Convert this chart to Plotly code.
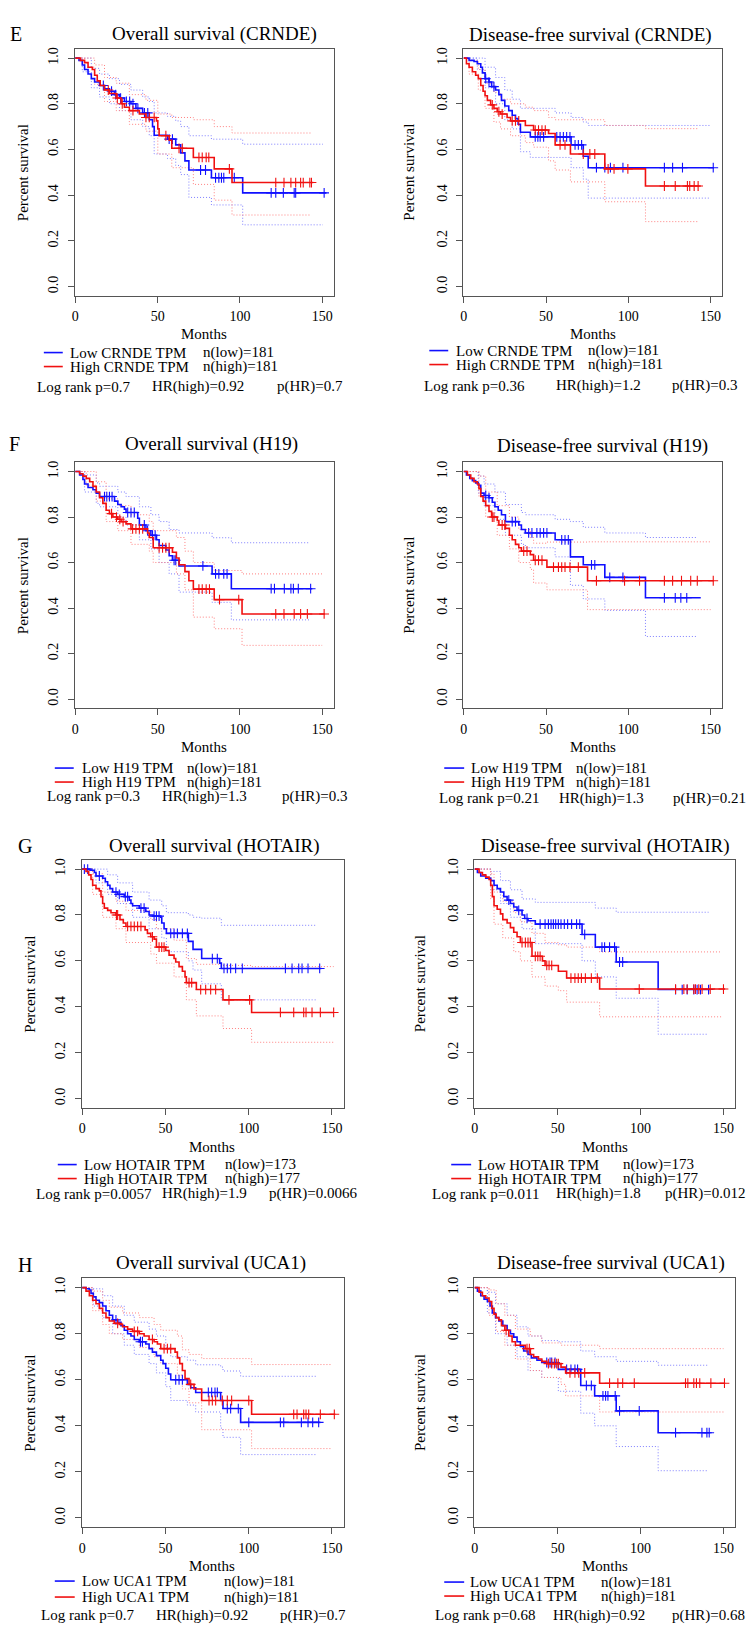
import bisect
import plotly.graph_objects as go

W, H = 756, 1634

# ------------------------------------------------------------------ data
# Kaplan-Meier steps: (months, survival); CI steps: (months, lower, upper); censor times in months
CRNDE_OS_LOW = [(0,1.0),(2.2,0.99),(4.2,0.97),(5.6,0.95),(7.7,0.93),(9.7,0.91),(11.7,0.895),(14.7,0.88),(17.7,0.865),(20.7,0.855),(23.8,0.84),(26.8,0.825),(29.8,0.81),(33.8,0.80),(36.8,0.78),(40.9,0.76),(44.9,0.73),(46.9,0.70),(47.9,0.662),(56.0,0.645),(61.0,0.62),(64.0,0.585),(66.6,0.55),(69.0,0.51),(82.7,0.476),(101.7,0.41),(152.6,0.41)]
CRNDE_OS_LOW_CENS = [17.0,22.0,24.5,27.5,31.0,33.0,35.0,38.0,42.0,44.0,57.0,59.0,76.1,79.1,85.2,87.2,88.8,90.2,96.6,119.0,121.8,126.4,133.0,133.9,151.2]
CRNDE_OS_LOW_CI = [(0,1.0,1.0),(4.2,0.94,1.0),(9.7,0.87,0.955),(14.7,0.83,0.93),(20.7,0.80,0.91),(26.8,0.77,0.885),(33.8,0.73,0.86),(40.9,0.70,0.83),(44.9,0.66,0.81),(47.9,0.58,0.76),(56.0,0.56,0.745),(61.0,0.53,0.725),(64.0,0.49,0.70),(69.0,0.39,0.66),(82.7,0.357,0.645),(101.7,0.27,0.623),(150.5,0.27,0.623)]
CRNDE_OS_HIGH = [(0,1.0),(3.0,0.99),(5.6,0.98),(7.7,0.96),(10.3,0.95),(11.7,0.925),(13.3,0.90),(15.1,0.88),(17.7,0.86),(20.7,0.845),(24.8,0.825),(27.8,0.80),(29.8,0.785),(32.8,0.77),(38.9,0.755),(42.9,0.74),(49.3,0.725),(50.1,0.69),(50.9,0.66),(57.0,0.64),(58.6,0.605),(71.7,0.565),(84.4,0.515),(95.2,0.455),(144.6,0.455)]
CRNDE_OS_HIGH_CENS = [20.0,25.5,28.5,35.0,42.9,44.9,47.9,55.0,63.0,65.0,75.1,77.1,79.5,81.1,93.6,121.8,126.8,131.0,133.9,136.9,138.5,142.5,143.5]
CRNDE_OS_HIGH_CI = [(0,1.0,1.0),(5.6,0.96,1.0),(11.7,0.885,0.97),(17.7,0.81,0.915),(24.8,0.77,0.89),(32.8,0.71,0.84),(42.9,0.68,0.815),(50.1,0.58,0.755),(58.6,0.52,0.74),(71.7,0.447,0.73),(84.4,0.378,0.70),(95.2,0.313,0.672),(143.5,0.313,0.672)]

CRNDE_DFS_LOW = [(0,1.0),(3.2,0.99),(6.2,0.985),(8.2,0.975),(10.3,0.96),(11.3,0.935),(12.9,0.91),(15.3,0.895),(16.9,0.875),(19.3,0.86),(21.3,0.84),(22.9,0.815),(24.9,0.79),(27.3,0.77),(29.4,0.75),(31.4,0.735),(33.0,0.71),(34.4,0.675),(40.4,0.655),(65.2,0.62),(72.6,0.57),(75.6,0.52),(152.0,0.52)]
CRNDE_DFS_LOW_CENS = [13.3,15.3,18.3,43.4,45.0,46.4,48.5,56.5,58.5,60.5,62.5,64.5,67.6,69.6,71.6,80.6,85.7,89.1,96.7,121.9,126.9,132.9,151.6]
CRNDE_DFS_LOW_CI = [(0,1.0,1.0),(8.2,0.95,1.0),(12.9,0.87,0.96),(19.3,0.80,0.915),(24.9,0.73,0.86),(29.4,0.69,0.82),(34.4,0.59,0.78),(40.4,0.565,0.78),(55.5,0.565,0.76),(65.2,0.52,0.74),(72.6,0.47,0.72),(75.6,0.387,0.705),(150.0,0.387,0.705)]
CRNDE_DFS_HIGH = [(0,1.0),(1.6,0.975),(3.2,0.96),(5.2,0.94),(7.2,0.925),(8.8,0.91),(10.3,0.88),(11.7,0.855),(12.9,0.835),(14.3,0.815),(16.3,0.795),(18.3,0.78),(20.3,0.765),(22.3,0.755),(26.3,0.74),(28.4,0.725),(37.4,0.705),(42.4,0.685),(51.5,0.67),(55.5,0.62),(64.8,0.58),(85.7,0.515),(110.4,0.44),(144.0,0.44)]
CRNDE_DFS_HIGH_CENS = [17.3,21.3,23.3,29.4,31.4,33.4,43.4,45.4,47.5,49.5,58.5,61.5,72.6,76.6,79.6,87.7,91.3,99.7,121.9,128.5,135.9,137.3,140.0,142.4]
CRNDE_DFS_HIGH_CI = [(0,1.0,1.0),(3.2,0.93,0.99),(8.8,0.86,0.95),(12.9,0.78,0.89),(18.3,0.72,0.85),(22.3,0.69,0.82),(28.4,0.66,0.80),(37.4,0.63,0.785),(42.4,0.61,0.77),(51.5,0.55,0.74),(55.5,0.51,0.73),(64.8,0.458,0.73),(85.7,0.371,0.705),(110.4,0.284,0.691),(142.4,0.284,0.691)]

H19_OS_LOW = [(0,1.0),(2.6,0.985),(4.6,0.965),(5.6,0.945),(7.7,0.93),(10.7,0.92),(12.7,0.905),(14.7,0.89),(23.8,0.87),(25.8,0.855),(27.8,0.845),(29.8,0.835),(30.8,0.82),(37.9,0.795),(38.9,0.765),(42.9,0.74),(45.9,0.72),(49.3,0.70),(50.9,0.675),(55.0,0.655),(57.0,0.63),(59.0,0.61),(63.0,0.585),(83.1,0.55),(94.8,0.485),(144.0,0.485)]
H19_OS_LOW_CENS = [17.7,19.1,20.7,22.3,31.8,33.8,35.8,41.9,43.9,46.9,48.5,60.0,61.0,77.5,85.2,87.2,90.2,92.2,119.0,121.0,127.0,131.0,132.5,135.5,143.0]
H19_OS_LOW_CI = [(0,1.0,1.0),(5.6,0.91,0.985),(12.7,0.86,0.95),(14.7,0.845,0.935),(25.8,0.80,0.91),(30.8,0.765,0.89),(38.9,0.70,0.845),(45.9,0.66,0.81),(50.9,0.60,0.78),(57.0,0.55,0.745),(63.0,0.47,0.73),(83.1,0.425,0.709),(94.8,0.348,0.687),(142.0,0.348,0.687)]
H19_OS_HIGH = [(0,1.0),(2.6,0.99),(4.6,0.98),(6.6,0.97),(8.7,0.955),(10.7,0.935),(12.7,0.91),(14.7,0.885),(16.7,0.86),(18.7,0.83),(20.7,0.815),(22.8,0.80),(25.8,0.79),(27.8,0.78),(30.8,0.77),(33.8,0.748),(43.9,0.73),(44.9,0.71),(47.3,0.665),(59.0,0.645),(61.4,0.62),(63.0,0.59),(66.6,0.56),(69.0,0.52),(71.7,0.483),(84.4,0.437),(101.3,0.374),(151.6,0.374)]
H19_OS_HIGH_CENS = [22.0,25.0,27.0,29.0,34.8,36.8,38.9,40.9,50.9,53.0,55.0,57.0,75.1,77.1,79.5,81.5,87.6,99.3,121.8,126.8,133.0,136.9,141.0,151.2]
H19_OS_HIGH_CI = [(0,1.0,1.0),(6.6,0.94,1.0),(12.7,0.87,0.955),(18.7,0.78,0.88),(25.8,0.74,0.85),(33.8,0.68,0.81),(44.9,0.65,0.78),(47.3,0.60,0.74),(61.4,0.55,0.71),(66.6,0.48,0.65),(71.7,0.36,0.60),(84.4,0.309,0.565),(101.3,0.236,0.55),(150.0,0.236,0.55)]

H19_DFS_LOW = [(0,1.0),(1.6,0.985),(3.6,0.97),(5.2,0.96),(7.2,0.95),(8.8,0.94),(10.3,0.905),(12.3,0.895),(15.3,0.885),(17.3,0.865),(18.9,0.845),(20.9,0.83),(22.9,0.81),(25.3,0.78),(33.4,0.765),(35.0,0.745),(37.4,0.73),(55.5,0.70),(64.8,0.625),(72.6,0.59),(85.7,0.535),(110.4,0.445),(144.0,0.445)]
H19_DFS_LOW_CENS = [13.3,15.3,29.4,31.4,39.4,41.4,44.4,46.4,48.5,50.5,59.5,61.5,63.5,77.6,79.6,88.7,96.7,121.9,128.5,131.9,135.5]
H19_DFS_LOW_CI = [(0,1.0,1.0),(8.8,0.905,0.98),(12.3,0.85,0.945),(18.9,0.79,0.91),(25.3,0.72,0.855),(35.0,0.68,0.82),(37.4,0.665,0.81),(55.5,0.625,0.79),(64.8,0.50,0.78),(72.6,0.44,0.755),(85.7,0.39,0.73),(110.4,0.275,0.71),(142.0,0.275,0.71)]
H19_DFS_HIGH = [(0,1.0),(2.2,0.985),(4.2,0.97),(6.2,0.955),(8.2,0.945),(9.2,0.925),(10.3,0.89),(11.7,0.87),(13.3,0.85),(15.3,0.825),(16.9,0.80),(20.3,0.785),(21.3,0.765),(25.3,0.75),(27.7,0.72),(29.4,0.70),(31.4,0.68),(33.4,0.665),(35.0,0.65),(40.4,0.635),(42.4,0.61),(50.5,0.58),(75.2,0.52),(152.0,0.52)]
H19_DFS_HIGH_CENS = [17.3,18.3,23.3,24.9,36.4,38.4,43.4,45.4,47.5,54.5,57.5,59.5,61.5,64.5,69.6,80.6,97.7,106.8,121.9,126.9,132.3,137.9,141.9,151.6]
H19_DFS_HIGH_CI = [(0,1.0,1.0),(9.2,0.89,0.98),(13.3,0.80,0.91),(20.3,0.72,0.85),(27.7,0.66,0.80),(33.4,0.60,0.745),(40.4,0.57,0.71),(42.4,0.51,0.685),(50.5,0.48,0.69),(75.2,0.393,0.691),(150.0,0.393,0.691)]

HOTAIR_OS_LOW = [(0,1.0),(4.6,0.995),(7.2,0.985),(8.2,0.97),(12.2,0.96),(13.8,0.945),(15.2,0.93),(16.6,0.915),(18.2,0.90),(21.2,0.89),(25.2,0.88),(28.2,0.865),(29.2,0.85),(30.2,0.84),(34.2,0.83),(38.1,0.815),(40.1,0.80),(42.5,0.795),(47.1,0.79),(47.7,0.765),(49.1,0.74),(50.5,0.72),(63.7,0.685),(66.5,0.65),(71.7,0.61),(82.5,0.59),(83.5,0.567),(143.6,0.567)]
HOTAIR_OS_LOW_CENS = [1.2,3.2,10.2,20.2,22.2,25.8,27.2,35.2,37.1,43.1,44.5,46.1,53.1,55.1,57.1,60.1,63.1,78.1,81.1,85.1,87.1,89.1,92.1,96.1,122.0,126.0,130.0,132.0,135.6,142.6]
HOTAIR_OS_LOW_CI = [(0,1.0,1.0),(8.2,0.94,1.0),(15.2,0.89,0.975),(21.2,0.85,0.94),(30.2,0.79,0.90),(40.1,0.74,0.865),(47.7,0.70,0.84),(50.5,0.64,0.81),(63.7,0.60,0.80),(66.5,0.56,0.79),(71.7,0.50,0.786),(83.5,0.43,0.755),(141.0,0.43,0.755)]
HOTAIR_OS_HIGH = [(0,1.0),(2.2,0.99),(3.8,0.975),(5.2,0.955),(6.2,0.93),(8.2,0.915),(10.2,0.905),(11.2,0.88),(12.2,0.85),(13.2,0.83),(15.2,0.82),(17.2,0.81),(20.2,0.80),(22.6,0.78),(24.6,0.765),(26.2,0.75),(37.7,0.735),(39.1,0.72),(41.1,0.705),(43.1,0.695),(44.5,0.66),(50.1,0.645),(52.1,0.625),(55.1,0.61),(56.1,0.595),(58.1,0.575),(60.1,0.555),(61.7,0.53),(62.5,0.505),(68.5,0.475),(84.5,0.43),(101.7,0.375),(151.0,0.375)]
HOTAIR_OS_HIGH_CENS = [20.5,21.2,27.2,29.2,31.2,33.2,35.2,42.1,46.1,47.7,49.1,64.1,65.7,71.1,74.1,77.1,80.1,88.1,100.5,119.0,127.0,133.0,134.4,138.0,143.0,151.0]
HOTAIR_OS_HIGH_CI = [(0,1.0,1.0),(6.2,0.89,0.98),(12.2,0.79,0.90),(20.2,0.74,0.86),(26.2,0.68,0.82),(41.1,0.63,0.78),(44.5,0.59,0.74),(55.1,0.53,0.69),(62.5,0.43,0.61),(68.5,0.36,0.585),(84.5,0.305,0.58),(101.7,0.245,0.575),(151.0,0.245,0.575)]

HOTAIR_DFS_LOW = [(0,1.0),(1.6,0.985),(3.6,0.97),(6.6,0.96),(9.6,0.95),(11.6,0.93),(13.5,0.915),(15.5,0.90),(17.5,0.88),(19.5,0.865),(21.5,0.85),(23.5,0.835),(25.5,0.82),(28.5,0.80),(30.1,0.785),(32.1,0.775),(36.5,0.76),(64.7,0.715),(72.7,0.66),(85.3,0.595),(110.6,0.475),(142.0,0.475)]
HOTAIR_DFS_LOW_CENS = [20.5,26.5,31.5,39.4,42.4,44.4,46.0,47.4,48.8,50.4,52.0,54.0,56.0,58.4,61.4,63.3,66.3,76.7,78.3,81.3,84.3,87.3,89.2,121.1,125.1,128.1,132.1,134.1,136.1,141.0]
HOTAIR_DFS_LOW_CI = [(0,1.0,1.0),(9.6,0.91,0.99),(15.5,0.85,0.95),(21.5,0.79,0.91),(28.5,0.74,0.87),(36.5,0.675,0.855),(64.7,0.60,0.855),(72.7,0.53,0.83),(85.3,0.437,0.812),(110.6,0.28,0.812),(141.0,0.28,0.812)]
HOTAIR_DFS_HIGH = [(0,1.0),(2.6,0.985),(4.6,0.975),(6.6,0.965),(8.6,0.955),(9.6,0.93),(10.6,0.88),(11.6,0.84),(13.5,0.825),(15.5,0.805),(16.9,0.78),(19.5,0.765),(21.5,0.745),(23.5,0.725),(25.5,0.705),(27.5,0.68),(34.5,0.62),(40.8,0.60),(42.4,0.58),(50.4,0.555),(55.4,0.525),(75.3,0.477),(151.0,0.477)]
HOTAIR_DFS_HIGH_CENS = [28.5,30.5,32.1,33.5,36.5,38.0,39.4,43.4,44.8,46.4,58.0,60.4,62.4,64.3,66.7,70.3,73.9,99.2,121.1,126.1,128.1,132.1,133.1,135.1,137.1,142.0,150.0]
HOTAIR_DFS_HIGH_CI = [(0,1.0,1.0),(9.6,0.87,0.98),(11.6,0.76,0.90),(16.9,0.70,0.86),(23.5,0.64,0.81),(27.5,0.60,0.77),(34.5,0.53,0.72),(42.4,0.49,0.68),(50.4,0.47,0.67),(55.4,0.42,0.66),(75.3,0.356,0.639),(149.0,0.356,0.639)]

UCA1_OS_LOW = [(0,1.0),(2.2,0.995),(4.2,0.99),(5.2,0.975),(6.6,0.96),(8.2,0.945),(10.2,0.935),(12.2,0.92),(14.2,0.90),(16.2,0.88),(18.2,0.86),(21.2,0.85),(23.2,0.835),(25.2,0.815),(27.2,0.80),(29.2,0.79),(31.2,0.775),(34.2,0.765),(38.1,0.755),(40.1,0.735),(42.1,0.72),(44.5,0.705),(47.1,0.685),(48.5,0.67),(50.1,0.65),(51.7,0.625),(53.1,0.60),(63.1,0.58),(65.1,0.565),(68.1,0.545),(83.1,0.51),(84.5,0.475),(95.1,0.415),(143.0,0.415)]
UCA1_OS_LOW_CENS = [20.2,34.9,36.1,56.1,58.1,60.1,75.7,77.7,79.7,81.1,87.1,89.1,93.7,100.0,119.0,121.0,131.6,135.6,138.4,142.0]
UCA1_OS_LOW_CI = [(0,1.0,1.0),(6.6,0.92,0.995),(12.2,0.87,0.965),(18.2,0.80,0.92),(25.2,0.75,0.88),(31.2,0.71,0.85),(40.1,0.67,0.82),(44.5,0.63,0.79),(50.1,0.57,0.74),(53.1,0.51,0.70),(63.1,0.49,0.685),(68.1,0.46,0.665),(83.1,0.39,0.655),(84.5,0.35,0.638),(95.1,0.275,0.615),(141.0,0.275,0.615)]
UCA1_OS_HIGH = [(0,1.0),(2.2,0.985),(4.2,0.965),(6.2,0.945),(8.2,0.93),(10.2,0.91),(12.2,0.89),(14.2,0.87),(16.2,0.855),(19.2,0.845),(22.2,0.84),(24.2,0.83),(27.2,0.82),(30.2,0.81),(34.2,0.80),(37.1,0.79),(40.1,0.775),(43.1,0.765),(45.1,0.755),(47.1,0.735),(55.7,0.72),(57.1,0.695),(58.5,0.67),(60.1,0.64),(61.7,0.605),(64.1,0.58),(67.1,0.56),(71.7,0.51),(101.7,0.45),(152.0,0.45)]
UCA1_OS_HIGH_CENS = [21.2,31.2,33.2,42.1,49.1,51.1,53.1,65.1,76.1,78.1,80.1,84.1,87.1,89.7,100.0,127.0,129.0,133.0,134.4,136.0,143.0,151.4]
UCA1_OS_HIGH_CI = [(0,1.0,1.0),(6.2,0.90,0.985),(12.2,0.84,0.945),(16.2,0.80,0.915),(24.2,0.775,0.89),(34.2,0.74,0.87),(43.1,0.70,0.84),(47.1,0.67,0.815),(57.1,0.62,0.79),(60.1,0.56,0.73),(64.1,0.50,0.71),(71.7,0.383,0.692),(101.7,0.301,0.666),(150.0,0.301,0.666)]

UCA1_DFS_LOW = [(0,1.0),(1.6,0.985),(3.6,0.965),(5.6,0.95),(7.6,0.94),(9.2,0.92),(10.6,0.89),(12.5,0.87),(14.5,0.855),(16.9,0.835),(19.5,0.815),(21.5,0.80),(23.5,0.785),(25.5,0.765),(27.5,0.745),(29.5,0.725),(32.1,0.71),(34.1,0.695),(37.5,0.685),(40.4,0.675),(50.4,0.645),(63.9,0.575),(72.3,0.53),(85.3,0.465),(110.6,0.37),(142.0,0.37)]
UCA1_DFS_LOW_CENS = [43.4,45.4,46.4,48.4,55.4,58.0,60.4,62.0,67.3,70.3,77.3,78.9,80.3,84.7,87.3,99.2,121.1,137.0,140.0,141.4]
UCA1_DFS_LOW_CI = [(0,1.0,1.0),(7.6,0.89,0.98),(12.5,0.80,0.93),(19.5,0.75,0.88),(25.5,0.70,0.83),(32.1,0.64,0.79),(40.4,0.61,0.77),(50.4,0.55,0.765),(63.9,0.455,0.725),(72.3,0.40,0.70),(85.3,0.31,0.68),(110.6,0.205,0.663),(141.0,0.205,0.663)]
UCA1_DFS_HIGH = [(0,1.0),(2.6,0.98),(4.6,0.965),(6.6,0.955),(8.6,0.94),(10.2,0.91),(11.6,0.885),(12.9,0.87),(14.5,0.86),(16.1,0.835),(18.1,0.815),(20.5,0.79),(22.5,0.765),(24.5,0.75),(30.5,0.735),(33.5,0.71),(35.5,0.70),(38.4,0.69),(40.4,0.68),(43.4,0.67),(52.0,0.655),(54.8,0.63),(75.3,0.585),(151.0,0.585)]
UCA1_DFS_HIGH_CENS = [18.9,31.5,32.9,44.4,46.4,48.0,49.4,50.4,57.4,60.4,62.7,66.3,81.3,86.3,89.2,96.2,127.1,128.5,132.1,133.7,135.7,142.4,150.6]
UCA1_DFS_HIGH_CI = [(0,1.0,1.0),(8.6,0.88,0.99),(12.9,0.81,0.93),(18.1,0.75,0.88),(24.5,0.69,0.82),(33.5,0.64,0.79),(40.4,0.61,0.76),(52.0,0.58,0.75),(54.8,0.53,0.75),(75.3,0.46,0.735),(150.0,0.46,0.735)]

X_TICKS = [0, 50, 100, 150]
Y_TICKS = [0.0, 0.2, 0.4, 0.6, 0.8, 1.0]

# ------------------------------------------------------------------ layout of panels (pixel positions)
PANELS = [
    dict(low=CRNDE_OS_LOW, lowc=CRNDE_OS_LOW_CENS, lowci=CRNDE_OS_LOW_CI,
         high=CRNDE_OS_HIGH, highc=CRNDE_OS_HIGH_CENS, highci=CRNDE_OS_HIGH_CI,
         box=(72, 332, 47, 294), title="Overall survival (CRNDE)", title_xy=(212, 32),
         letter="E", letter_xy=(13, 32), ylab_x=20, months_xy=(202, 332),
         leg_line=(41, 60), leg_tx=65, leg_nx=199, leg_y=(351, 365),
         leg_txt=("Low CRNDE TPM", "High CRNDE TPM"), leg_n=("n(low)=181", "n(high)=181"),
         stats=("Log rank p=0.7", "HR(high)=0.92", "p(HR)=0.7"), stats_x=(32, 148, 273), stats_y=385),
    dict(low=CRNDE_DFS_LOW, lowc=CRNDE_DFS_LOW_CENS, lowci=CRNDE_DFS_LOW_CI,
         high=CRNDE_DFS_HIGH, highc=CRNDE_DFS_HIGH_CENS, highci=CRNDE_DFS_HIGH_CI,
         box=(462, 722, 47, 294), title="Disease-free survival (CRNDE)", title_xy=(590, 33),
         letter=None, letter_xy=None, ylab_x=408, months_xy=(592, 332),
         leg_line=(428, 447), leg_tx=453, leg_nx=585, leg_y=(349, 363),
         leg_txt=("Low CRNDE TPM", "High CRNDE TPM"), leg_n=("n(low)=181", "n(high)=181"),
         stats=("Log rank p=0.36", "HR(high)=1.2", "p(HR)=0.3"), stats_x=(421, 553, 670), stats_y=384),
    dict(low=H19_OS_LOW, lowc=H19_OS_LOW_CENS, lowci=H19_OS_LOW_CI,
         high=H19_OS_HIGH, highc=H19_OS_HIGH_CENS, highci=H19_OS_HIGH_CI,
         box=(72, 332, 461, 707), title="Overall survival (H19)", title_xy=(209, 443),
         letter="F", letter_xy=(12, 443), ylab_x=20, months_xy=(202, 746),
         leg_line=(52, 71), leg_tx=77, leg_nx=183, leg_y=(767, 781),
         leg_txt=("Low H19 TPM", "High H19 TPM"), leg_n=("n(low)=181", "n(high)=181"),
         stats=("Log rank p=0.3", "HR(high)=1.3", "p(HR)=0.3"), stats_x=(42, 158, 278), stats_y=795),
    dict(low=H19_DFS_LOW, lowc=H19_DFS_LOW_CENS, lowci=H19_DFS_LOW_CI,
         high=H19_DFS_HIGH, highc=H19_DFS_HIGH_CENS, highci=H19_DFS_HIGH_CI,
         box=(462, 722, 461, 707), title="Disease-free survival (H19)", title_xy=(602, 445),
         letter=None, letter_xy=None, ylab_x=408, months_xy=(592, 746),
         leg_line=(443, 463), leg_tx=468, leg_nx=573, leg_y=(767, 781),
         leg_txt=("Low H19 TPM", "High H19 TPM"), leg_n=("n(low)=181", "n(high)=181"),
         stats=("Log rank p=0.21", "HR(high)=1.3", "p(HR)=0.21"), stats_x=(436, 556, 671), stats_y=797),
    dict(low=HOTAIR_OS_LOW, lowc=HOTAIR_OS_LOW_CENS, lowci=HOTAIR_OS_LOW_CI,
         high=HOTAIR_OS_HIGH, highc=HOTAIR_OS_HIGH_CENS, highci=HOTAIR_OS_HIGH_CI,
         box=(79, 342, 859, 1107), title="Overall survival (HOTAIR)", title_xy=(212, 845),
         letter="G", letter_xy=(22, 845), ylab_x=27, months_xy=(210, 1146),
         leg_line=(55, 74), leg_tx=79, leg_nx=221, leg_y=(1164, 1178),
         leg_txt=("Low HOTAIR TPM", "High HOTAIR TPM"), leg_n=("n(low)=173", "n(high)=177"),
         stats=("Log rank p=0.0057", "HR(high)=1.9", "p(HR)=0.0066"), stats_x=(31, 158, 265), stats_y=1193),
    dict(low=HOTAIR_DFS_LOW, lowc=HOTAIR_DFS_LOW_CENS, lowci=HOTAIR_DFS_LOW_CI,
         high=HOTAIR_DFS_HIGH, highc=HOTAIR_DFS_HIGH_CENS, highci=HOTAIR_DFS_HIGH_CI,
         box=(473, 735, 859, 1107), title="Disease-free survival (HOTAIR)", title_xy=(605, 845),
         letter=None, letter_xy=None, ylab_x=418, months_xy=(604, 1146),
         leg_line=(450, 470), leg_tx=475, leg_nx=620, leg_y=(1164, 1178),
         leg_txt=("Low HOTAIR TPM", "High HOTAIR TPM"), leg_n=("n(low)=173", "n(high)=177"),
         stats=("Log rank p=0.011", "HR(high)=1.8", "p(HR)=0.012"), stats_x=(429, 553, 663), stats_y=1193),
    dict(low=UCA1_OS_LOW, lowc=UCA1_OS_LOW_CENS, lowci=UCA1_OS_LOW_CI,
         high=UCA1_OS_HIGH, highc=UCA1_OS_HIGH_CENS, highci=UCA1_OS_HIGH_CI,
         box=(79, 342, 1278, 1527), title="Overall survival (UCA1)", title_xy=(209, 1263),
         letter="H", letter_xy=(22, 1265), ylab_x=27, months_xy=(210, 1566),
         leg_line=(52, 72), leg_tx=77, leg_nx=220, leg_y=(1581, 1597),
         leg_txt=("Low UCA1 TPM", "High UCA1 TPM"), leg_n=("n(low)=181", "n(high)=181"),
         stats=("Log rank p=0.7", "HR(high)=0.92", "p(HR)=0.7"), stats_x=(36, 152, 276), stats_y=1615),
    dict(low=UCA1_DFS_LOW, lowc=UCA1_DFS_LOW_CENS, lowci=UCA1_DFS_LOW_CI,
         high=UCA1_DFS_HIGH, highc=UCA1_DFS_HIGH_CENS, highci=UCA1_DFS_HIGH_CI,
         box=(473, 735, 1278, 1527), title="Disease-free survival (UCA1)", title_xy=(610, 1263),
         letter=None, letter_xy=None, ylab_x=418, months_xy=(604, 1566),
         leg_line=(443, 463), leg_tx=467, leg_nx=598, leg_y=(1582, 1596),
         leg_txt=("Low UCA1 TPM", "High UCA1 TPM"), leg_n=("n(low)=181", "n(high)=181"),
         stats=("Log rank p=0.68", "HR(high)=0.92", "p(HR)=0.68"), stats_x=(432, 550, 670), stats_y=1615),
]

FONT = "Liberation Serif, Times New Roman, serif"
BLUE, RED = "#1010ff", "#f01010"
BLUE_CI, RED_CI = "#7f7fff", "#ff8080"
AXIS_COLOR = "#555555"


def px(x):
    return x / W


def py(y):
    return 1 - y / H


def surv_at(curve, t):
    times = [p[0] for p in curve]
    i = bisect.bisect_right(times, t) - 1
    return curve[max(i, 0)][1]


fig = go.Figure()
annotations = []
shapes = []

for k, p in enumerate(PANELS):
    ax = "" if k == 0 else str(k + 1)
    xref, yref = "x" + ax, "y" + ax
    x0, x1, y0, y1 = p["box"]

    for ci, cicol in ((p["lowci"], BLUE_CI), (p["highci"], RED_CI)):
        for idx in (1, 2):
            fig.add_trace(go.Scatter(
                x=[r[0] for r in ci], y=[r[idx] for r in ci], mode="lines",
                line=dict(color=cicol, width=1, dash="1px,2px", shape="hv"),
                xaxis=xref, yaxis=yref, showlegend=False, hoverinfo="skip"))
    for curve, cens, col in ((p["low"], p["lowc"], BLUE), (p["high"], p["highc"], RED)):
        fig.add_trace(go.Scatter(
            x=[r[0] for r in curve], y=[r[1] for r in curve], mode="lines",
            line=dict(color=col, width=1.6, shape="hv"),
            xaxis=xref, yaxis=yref, showlegend=False))
        fig.add_trace(go.Scatter(
            x=cens, y=[surv_at(curve, c) for c in cens], mode="markers",
            marker=dict(symbol="cross-thin", size=7, line=dict(color=col, width=1.1)),
            xaxis=xref, yaxis=yref, showlegend=False))

    common = dict(showline=True, mirror=True, linecolor=AXIS_COLOR, linewidth=1,
                  ticks="outside", ticklen=6, tickcolor=AXIS_COLOR, tickwidth=1,
                  showgrid=False, zeroline=False,
                  tickfont=dict(family=FONT, size=14, color="black"))
    fig.layout["xaxis" + ax] = dict(common, domain=[px(x0), px(x1)], range=[-0.4, 157],
                                    tickvals=X_TICKS, anchor=yref, ticklabelstandoff=2)
    fig.layout["yaxis" + ax] = dict(common, domain=[py(y1), py(y0)], range=[-0.04, 1.04],
                                    tickvals=Y_TICKS, tickformat=".1f", tickangle=-90,
                                    anchor=xref, ticklabelstandoff=4)

    def txt(x, y, s, size=15, xanchor="center", angle=0):
        annotations.append(dict(x=px(x), y=py(y), xref="paper", yref="paper", text=s,
                                showarrow=False, xanchor=xanchor, yanchor="middle",
                                textangle=angle,
                                font=dict(family=FONT, size=size, color="black")))

    txt(p["title_xy"][0], p["title_xy"][1], p["title"], size=19)
    if p["letter"]:
        txt(p["letter_xy"][0], p["letter_xy"][1], p["letter"], size=20)
    txt(p["ylab_x"], (y0 + y1) / 2, "Percent survival", size=15, angle=-90)
    txt(p["months_xy"][0], p["months_xy"][1], "Months", size=15)
    for j, col in enumerate((BLUE, RED)):
        ly = p["leg_y"][j]
        shapes.append(dict(type="line", xref="paper", yref="paper",
                           x0=px(p["leg_line"][0]), x1=px(p["leg_line"][1]),
                           y0=py(ly), y1=py(ly), line=dict(color=col, width=1.6)))
        txt(p["leg_tx"], ly, p["leg_txt"][j], size=15, xanchor="left")
        txt(p["leg_nx"], ly, p["leg_n"][j], size=15, xanchor="left")
    for s, sx in zip(p["stats"], p["stats_x"]):
        txt(sx, p["stats_y"], s, size=15, xanchor="left")

fig.update_layout(width=W, height=H, margin=dict(l=0, r=0, t=0, b=0),
                  paper_bgcolor="white", plot_bgcolor="white",
                  annotations=annotations, shapes=shapes, showlegend=False)

fig.write_html("out.html", config={"displayModeBar": False},
               post_script="document.body.style.margin='0';")
